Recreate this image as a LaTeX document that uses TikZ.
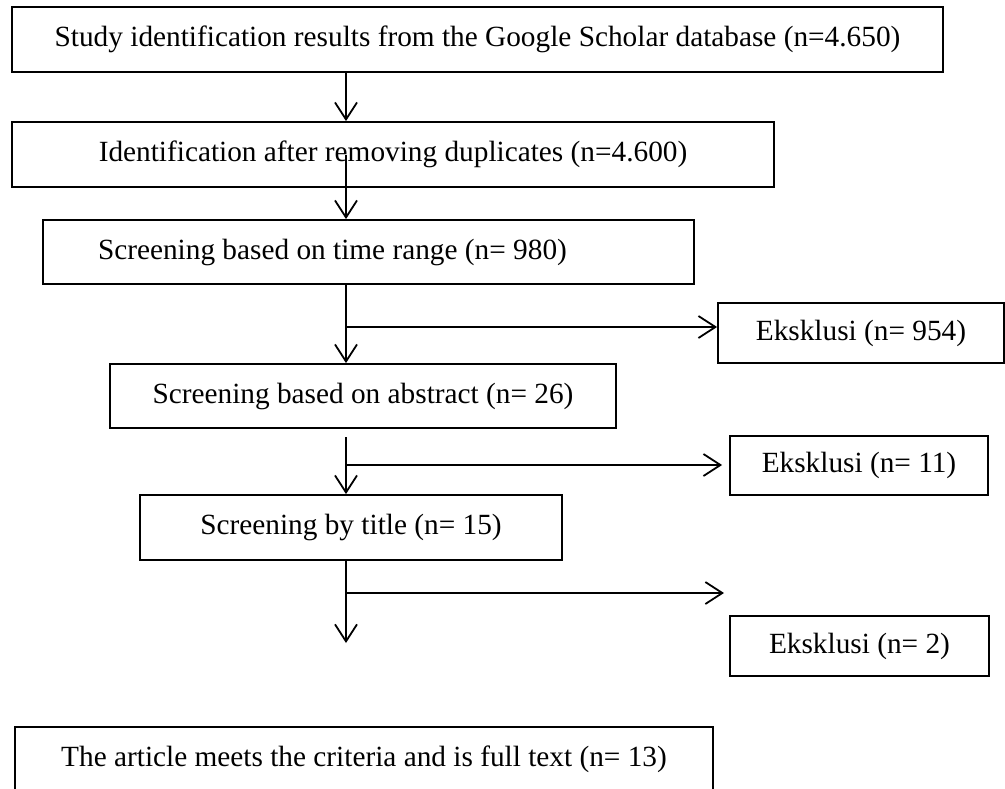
\documentclass[tikz,border=0pt]{standalone}
\usepackage{fontspec}
\setmainfont{Liberation Serif}
\usetikzlibrary{arrows.meta}

\begin{document}
\begin{tikzpicture}[x=1pt, y=-1pt, >={Straight Barb[length=17pt,width=22pt]}, line width=1.8pt, font=\fontsize{29.3}{35}\selectfont]
      \tikzset{box/.style={draw, minimum height=64pt, inner sep=0pt, align=center}}
      \useasboundingbox (0,0) rectangle (1005,788);
      \coordinate (spine) at (346,0);
      \node[box, minimum width=931pt, minimum height=65pt] (search) at (477.5,39.5) {Study identification results from the Google Scholar database (n=4.650)};
      \node[box, minimum width=762pt, minimum height=65pt] (dedup) at (393,154.5) {Identification after removing duplicates (n=4.600)};
      \node[box, minimum width=651pt, minimum height=64pt] (timerange) at (368.5,252) {\makebox[541pt][l]{Screening based on time range (n= 980)}};
      \node[box, minimum width=286pt, minimum height=60pt] (excl1) at (861,333) {Eksklusi (n= 954)};
      \node[box, minimum width=506pt] (abstract) at (363,396) {Screening based on abstract (n= 26)};
      \node[box, minimum width=258pt, minimum height=59pt] (excl2) at (859,465.5) {Eksklusi (n= 11)};
      \node[box, minimum width=422pt, minimum height=65pt] (title) at (351,527.5) {Screening by title (n= 15)};
      \node[box, minimum width=259pt, minimum height=60pt] (excl3) at (859.5,646) {Eksklusi (n= 2)};
      \node[box, minimum width=698pt, minimum height=65pt] (fulltext) at (364,759.5) {The article meets the criteria and is full text (n= 13)};
      \coordinate (br1) at (346,327);
      \coordinate (s4) at (346,437);
      \coordinate (br2) at (346,465);
      \coordinate (br3) at (346,593);
      \coordinate (br3end) at (724,593);
      \coordinate (s5end) at (346,643);
      \draw[->] (spine |- search.south) -- (spine |- dedup.north);
      \draw[->] (spine |- dedup.center) -- (spine |- timerange.north);
      \draw[->] (spine |- timerange.south) -- (spine |- abstract.north);
      \draw[->] (br1) -- (excl1.west |- br1);
      \draw[->] (s4) -- (spine |- title.north);
      \draw[->, shorten >=7pt] (br2) -- (excl2.west |- br2);
      \draw[->] (spine |- title.south) -- (s5end);
      \draw[->] (br3) -- (br3end);
    \end{tikzpicture}
\end{document}
